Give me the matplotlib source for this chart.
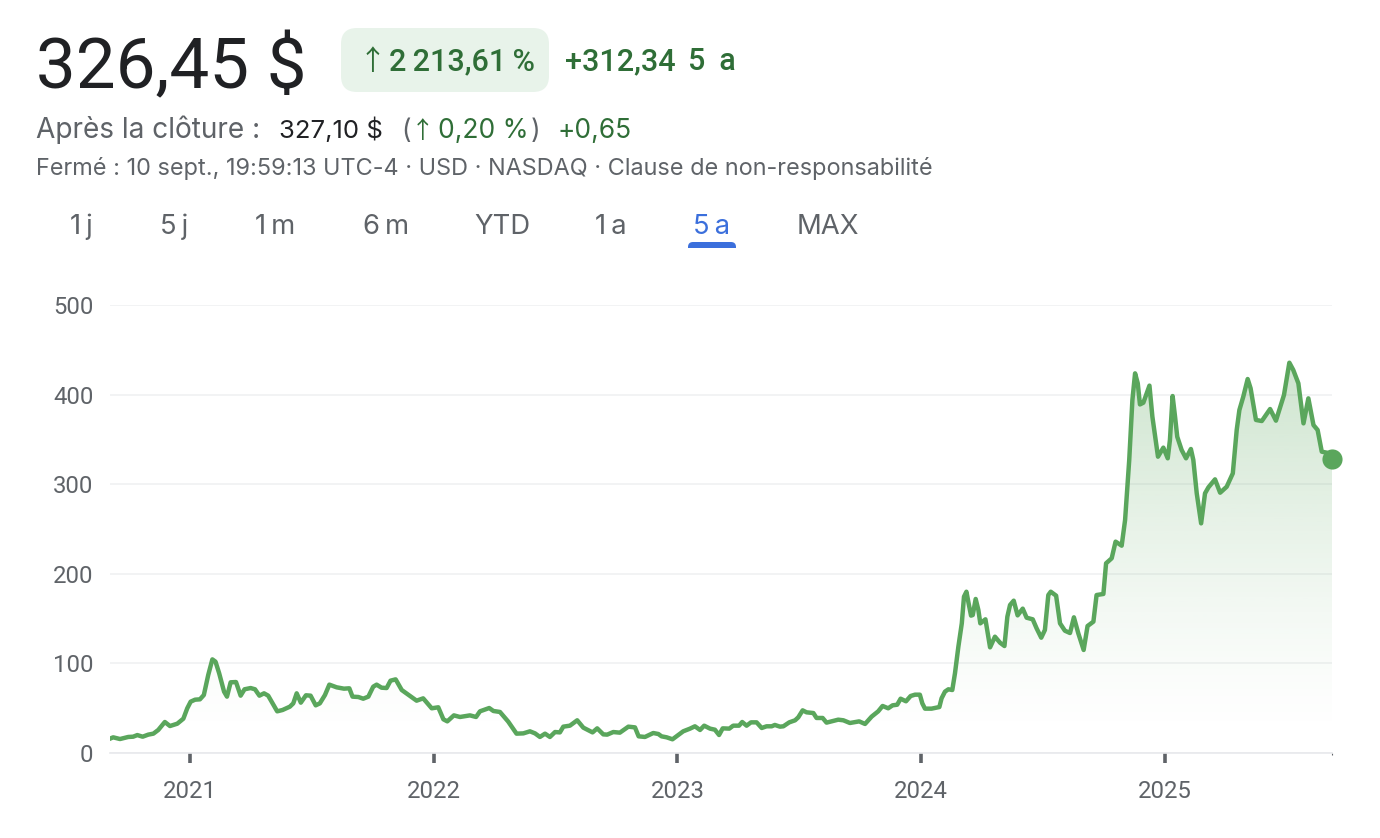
"""Stock price card: 5 year view, rebuilt with matplotlib."""
import matplotlib
matplotlib.use("Agg")
import matplotlib.pyplot as plt
import numpy as np
from matplotlib.patches import FancyBboxPatch
from matplotlib.transforms import Bbox

W, H = 1380, 838

years = [
    2020.672, 2020.685, 2020.713, 2020.747, 2020.767, 2020.784, 2020.806, 2020.829, 2020.850, 2020.870,
    2020.897, 2020.918, 2020.948, 2020.973, 2020.989, 2021.003, 2021.021, 2021.041, 2021.057, 2021.075,
    2021.092, 2021.105, 2021.120, 2021.140, 2021.152, 2021.167, 2021.189, 2021.208, 2021.224, 2021.249,
    2021.267, 2021.285, 2021.304, 2021.321, 2021.358, 2021.380, 2021.410, 2021.424, 2021.438, 2021.455,
    2021.476, 2021.495, 2021.516, 2021.533, 2021.554, 2021.572, 2021.602, 2021.632, 2021.654, 2021.667,
    2021.691, 2021.711, 2021.732, 2021.752, 2021.766, 2021.786, 2021.807, 2021.823, 2021.844, 2021.869,
    2021.903, 2021.930, 2021.957, 2021.992, 2022.019, 2022.040, 2022.056, 2022.083, 2022.108, 2022.149,
    2022.174, 2022.190, 2022.228, 2022.245, 2022.272, 2022.306, 2022.340, 2022.368, 2022.395, 2022.416,
    2022.436, 2022.457, 2022.477, 2022.498, 2022.518, 2022.532, 2022.559, 2022.589, 2022.614, 2022.652,
    2022.671, 2022.696, 2022.712, 2022.737, 2022.764, 2022.799, 2022.826, 2022.841, 2022.867, 2022.901,
    2022.922, 2022.935, 2022.956, 2022.980, 2023.004, 2023.024, 2023.052, 2023.072, 2023.093, 2023.110,
    2023.134, 2023.154, 2023.171, 2023.186, 2023.213, 2023.229, 2023.253, 2023.266, 2023.284, 2023.302,
    2023.325, 2023.346, 2023.366, 2023.387, 2023.400, 2023.421, 2023.435, 2023.459, 2023.483, 2023.496,
    2023.514, 2023.530, 2023.558, 2023.571, 2023.596, 2023.612, 2023.660, 2023.681, 2023.708, 2023.746,
    2023.770, 2023.797, 2023.824, 2023.842, 2023.865, 2023.883, 2023.902, 2023.916, 2023.938, 2023.957,
    2023.975, 2023.995, 2024.005, 2024.016, 2024.043, 2024.075, 2024.084, 2024.098, 2024.112, 2024.128,
    2024.139, 2024.153, 2024.167, 2024.176, 2024.186, 2024.195, 2024.205, 2024.212, 2024.224, 2024.235,
    2024.243, 2024.264, 2024.283, 2024.303, 2024.324, 2024.342, 2024.354, 2024.365, 2024.380, 2024.396,
    2024.417, 2024.433, 2024.458, 2024.474, 2024.493, 2024.508, 2024.522, 2024.532, 2024.554, 2024.570,
    2024.590, 2024.611, 2024.627, 2024.645, 2024.667, 2024.683, 2024.707, 2024.720, 2024.748, 2024.759,
    2024.782, 2024.798, 2024.823, 2024.837, 2024.854, 2024.867, 2024.878, 2024.889, 2024.898, 2024.912,
    2024.937, 2024.949, 2024.972, 2024.994, 2025.012, 2025.021, 2025.032, 2025.042, 2025.051, 2025.069,
    2025.087, 2025.107, 2025.117, 2025.131, 2025.149, 2025.165, 2025.179, 2025.206, 2025.227, 2025.254,
    2025.279, 2025.295, 2025.306, 2025.322, 2025.340, 2025.352, 2025.374, 2025.398, 2025.432, 2025.456,
    2025.489, 2025.511, 2025.527, 2025.548, 2025.569, 2025.589, 2025.610, 2025.627, 2025.644, 2025.664,
    2025.686,
]
prices = [
    16.0, 17.5, 15.6, 17.9, 18.2, 20.0, 18.2, 20.5, 21.6, 25.7,
    34.6, 30.1, 32.7, 38.3, 49.9, 57.3, 59.5, 59.9, 64.7, 87.0,
    104.5, 101.9, 88.9, 68.5, 62.9, 78.9, 79.2, 64.0, 71.1, 72.5,
    71.1, 64.0, 66.6, 64.0, 46.5, 48.0, 51.7, 55.4, 66.6, 56.2,
    64.4, 64.0, 53.2, 55.4, 64.7, 76.3, 73.3, 71.8, 72.2, 62.9,
    62.5, 60.6, 62.9, 74.0, 76.3, 72.9, 72.5, 80.7, 82.2, 70.3,
    63.6, 58.4, 61.0, 49.9, 51.0, 37.6, 35.3, 42.0, 40.2, 42.0,
    40.2, 46.5, 50.2, 46.9, 45.8, 35.0, 21.6, 21.9, 24.2, 21.9,
    17.9, 21.6, 17.9, 23.4, 23.0, 29.4, 30.5, 36.5, 28.3, 23.0,
    27.5, 20.8, 20.5, 23.4, 22.7, 29.4, 28.6, 18.6, 17.9, 22.3,
    21.2, 18.6, 17.5, 15.3, 20.1, 24.2, 27.2, 29.8, 25.7, 30.5,
    27.2, 26.0, 20.1, 27.5, 27.2, 30.5, 30.5, 34.6, 30.5, 34.2,
    34.2, 27.9, 29.8, 29.8, 31.3, 29.4, 29.8, 34.2, 36.5, 39.8,
    47.6, 45.4, 44.6, 39.1, 39.1, 33.9, 37.2, 36.5, 33.5, 35.3,
    32.4, 40.6, 46.5, 52.5, 49.9, 53.2, 53.9, 60.6, 57.7, 63.6,
    65.1, 65.1, 55.4, 49.5, 49.5, 51.3, 61.0, 68.5, 71.1, 70.3,
    88.9, 118.7, 144.7, 174.5, 180.0, 167.0, 153.3, 154.0, 171.9, 159.6,
    144.7, 149.2, 117.9, 129.8, 123.1, 119.4, 152.2, 165.2, 170.0, 153.6,
    161.1, 151.0, 149.2, 139.1, 128.7, 137.3, 176.3, 180.0, 175.6, 144.7,
    136.5, 133.9, 151.4, 133.6, 115.0, 141.7, 146.6, 176.3, 177.5, 211.7,
    217.3, 235.9, 231.4, 260.0, 327.0, 394.0, 423.7, 412.6, 389.0, 391.0,
    410.0, 375.4, 330.7, 340.8, 328.9, 349.3, 398.4, 375.4, 353.0, 338.2,
    328.9, 339.3, 327.0, 289.8, 256.3, 289.8, 296.5, 305.4, 290.5, 297.2,
    312.1, 360.5, 382.8, 397.7, 417.4, 407.0, 371.7, 370.5, 383.9, 370.9,
    399.6, 435.6, 427.5, 412.6, 367.9, 395.8, 366.0, 360.5, 336.3, 335.2,
    327.7,
]
y_ticks = [0, 100, 200, 300, 400, 500]
x_ticks = [2021, 2022, 2023, 2024, 2025]
ranges = ["1\u2009j", "5\u2009j", "1\u2009m", "6\u2009m", "YTD", "1\u2009a", "5\u2009a", "MAX"]
range_x = [81, 174, 275, 386, 502, 611, 712, 828]

DARK = "#202124"
GREY = "#5f6368"
GREEN = "#2f6e37"
LINE = "#5aa65c"
BLUE = "#3b6fdc"
WIDE = ["Inter", "DejaVu Sans"]
ARROW = ["Noto Sans CJK JP", "DejaVu Sans"]

plt.rcParams["font.family"] = ["Roboto", "DejaVu Sans"]

fig = plt.figure(figsize=(W / 100, H / 100), dpi=100, facecolor="white")
ax = fig.add_axes([110 / W, 1 - 753 / H, (1332 - 110) / W, (753 - 305) / H])
ax.patch.set_visible(False)

# gradient under the line, clipped to the area below it
rgba = np.zeros((256, 1, 4))
rgba[..., :3] = matplotlib.colors.to_rgb(LINE)
rgba[..., 3] = np.linspace(0, 1, 256).reshape(-1, 1) ** 1.3 * 0.30
area = ax.fill_between(years, prices, 0, color="none", lw=0)
im = ax.imshow(rgba, origin="lower", aspect="auto", zorder=2,
               extent=[2020.672, 2025.686, 20, 436], interpolation="bilinear")
ax.set_xlim(2020.672, 2025.686)
ax.set_ylim(0, 500)
im.set_clip_path(area.get_paths()[0], transform=ax.transData)

ax.grid(axis="y", color="#f2f3f4", lw=1.4, zorder=1)
ax.set_axisbelow(True)
ax.plot(years, prices, color=LINE, lw=3.2, solid_joinstyle="round", zorder=3)
ax.plot([years[-1]], [prices[-1]], "o", color=LINE, ms=14.5, mew=0, clip_on=False, zorder=4)

for s in ["top", "right", "left"]:
    ax.spines[s].set_visible(False)
ax.spines["bottom"].set_color("#e8e9ec")
ax.spines["bottom"].set_linewidth(1.2)
ax.set_yticks(y_ticks)
ax.set_xticks(x_ticks)
ax.set_xticks([2025.686], minor=True)
ax.tick_params(axis="y", length=0, labelsize=17.2, labelcolor=GREY, pad=12)
ax.tick_params(axis="x", length=7.2, width=2.6, color=GREY, labelsize=17.2,
               labelcolor=GREY, pad=12)
ax.tick_params(axis="x", which="minor", length=1.5, width=0.8, color=GREY)


def label(x, y, s, size, color=GREY, **kw):
    # x, y in reference pixels, y is the text baseline
    return fig.text(x / W, 1 - y / H, s, fontsize=size, color=color, va="baseline", **kw)


label(36, 88, "326,45 $", 51, DARK)
fig.add_artist(FancyBboxPatch((341, H - 92), 208, 64, boxstyle="round,pad=0,rounding_size=16",
                              transform=None, fc="#e8f3ea", ec="none"))
label(359, 70, "↑", 20, GREEN, family=ARROW)
label(389, 70, "2\u2009213,61\u2009%", 22, GREEN, fontweight="medium")
label(565, 70, "+312,34", 22, GREEN, fontweight="medium")
label(688, 70, "5 \u2009a", 22, GREEN, fontweight="medium")

label(36, 138, "Après la clôture :", 20.2, GREY, family=WIDE)
label(279, 138, "327,10 $", 18.5, DARK, family=WIDE)
label(401, 138, "(", 19, GREY, family=WIDE)
label(411, 138, "↑", 17, GREEN, family=ARROW)
label(438, 138, "0,20 %", 19, GREEN, family=WIDE)
label(531, 138, ")", 19, GREY, family=WIDE)
label(557, 138, "+0,65", 19, GREEN, family=WIDE)
label(36, 175, "Fermé : 10 sept., 19:59:13 UTC-4 · USD · NASDAQ · Clause de non-responsabilité",
      16.9, GREY, family=WIDE)

for x, s in zip(range_x, ranges):
    label(x, 234, s, 19.8, BLUE if s == "5\u2009a" else GREY, ha="center", family=WIDE)
tab = FancyBboxPatch((688, H - 256), 48, 14, boxstyle="round,pad=0,rounding_size=5",
                     transform=None, fc=BLUE, ec="none")
fig.add_artist(tab)
tab.set_clip_box(Bbox([[0, H - 248], [W, H]]))

fig.savefig("out.png", dpi=100)
